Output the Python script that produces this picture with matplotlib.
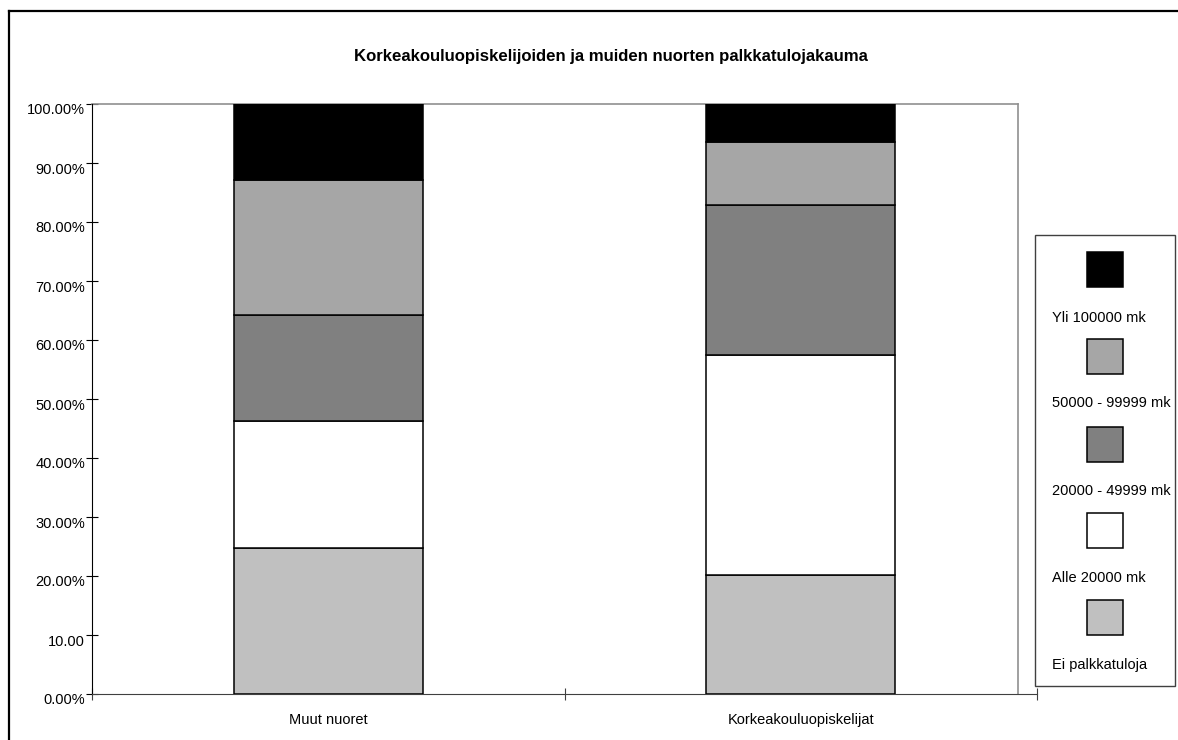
import numpy as np
import matplotlib
matplotlib.use('Agg')
import matplotlib.pyplot as plt
from matplotlib.patches import Rectangle
from matplotlib.lines import Line2D
import matplotlib.transforms as mtransforms

plt.rcParams['font.family'] = ['Liberation Sans', 'DejaVu Sans']

# Data (percent shares, bottom to top)
groups = ['Muut nuoret', 'Korkeakouluopiskelijat']
categories = ['Ei palkkatuloja', 'Alle 20000 mk', '20000 - 49999 mk',
              '50000 - 99999 mk', 'Yli 100000 mk']
ei_palkkatuloja = [24.7, 20.2]
alle_20000 = [21.5, 37.3]
v20000_49999 = [18.0, 25.4]
v50000_99999 = [22.9, 10.7]
yli_100000 = [12.9, 6.4]
colors = ['#c0c0c0', '#ffffff', '#808080', '#a6a6a6', '#000000']
ytick_labels = ['0.00%', '10.00', '20.00%', '30.00%', '40.00%', '50.00%',
                '60.00%', '70.00%', '80.00%', '90.00%', '100.00%']
title = 'Korkeakouluopiskelijoiden ja muiden nuorten palkkatulojakauma'

W, H = 1178, 740
FS = 10.5
fig = plt.figure(figsize=(W / 100, H / 100), dpi=100)


def fx(px):
    return px / W


def fy(py):
    return 1 - py / H


# outer chart border (only left and top visible)
fig.add_artist(Line2D([fx(9), fx(9)], [fy(11), 0], color='black', lw=1.6,
                      transform=fig.transFigure))
fig.add_artist(Line2D([fx(9), 1], [fy(11), fy(11)], color='black', lw=1.6,
                      transform=fig.transFigure))

ax = fig.add_axes([fx(92), fy(694), fx(1037) - fx(92), fy(104) - fy(694)])
x = np.array([0.5, 1.5])
series = [ei_palkkatuloja, alle_20000, v20000_49999, v50000_99999, yli_100000]
bottom = np.zeros(len(groups))
for vals, col in zip(series, colors):
    ax.bar(x, vals, 0.4, bottom=bottom, color=col, edgecolor='black',
           linewidth=1.1, zorder=3)
    bottom += np.array(vals)

ax.set_xlim(0, 2)
ax.set_ylim(0, 100)
ax.spines['right'].set_visible(False)
ax.spines['top'].set_visible(False)
ax.spines['left'].set_color('black')
ax.spines['bottom'].set_color('#404040')
# plot area frame (top and right, gray)
frame_r = (1018 - 92) / (1037 - 92) * 2
ax.plot([0, frame_r], [100, 100], color='#909090', lw=1.2, clip_on=False, zorder=2)
ax.plot([frame_r, frame_r], [0, 100], color='#909090', lw=1.2, clip_on=False, zorder=2)

ax.set_yticks(np.arange(0, 101, 10))
ax.set_yticklabels(ytick_labels)
ax.set_xticks([0, 1, 2])
ax.set_xticklabels([])
ax.set_xticks(x, minor=True)
ax.set_xticklabels(groups, minor=True)
ax.tick_params(axis='x', which='minor', length=0, pad=14, labelsize=FS)
ax.tick_params(axis='x', which='major', direction='inout', length=8,
               color='#404040', width=0.8)
ax.tick_params(axis='y', direction='inout', length=8, width=0.8, pad=1,
               labelsize=FS)
offset = mtransforms.ScaledTranslation(0, -5 / 100, fig.dpi_scale_trans)
for lab in ax.get_yticklabels():
    lab.set_transform(lab.get_transform() + offset)

fig.text(fx(611), fy(57), title, ha='center', va='center', fontsize=12.1,
         fontweight='bold')

# legend box
fig.add_artist(Rectangle((fx(1035), fy(686)), fx(1175) - fx(1035), fy(235) - fy(686),
                         facecolor='white', edgecolor='#404040', lw=1.0,
                         transform=fig.transFigure))
patch_tops = [252, 339, 427, 513, 600]
text_ys = [318, 403, 491, 578, 665]
for name, col, pt, ty in zip(categories[::-1], colors[::-1], patch_tops, text_ys):
    fig.add_artist(Rectangle((fx(1087), fy(pt + 35)), fx(36), 35 / H,
                             facecolor=col, edgecolor='black', lw=1.1,
                             transform=fig.transFigure))
    fig.text(fx(1052), fy(ty), name, ha='left', va='center', fontsize=FS)

fig.savefig('out.png', dpi=100)
